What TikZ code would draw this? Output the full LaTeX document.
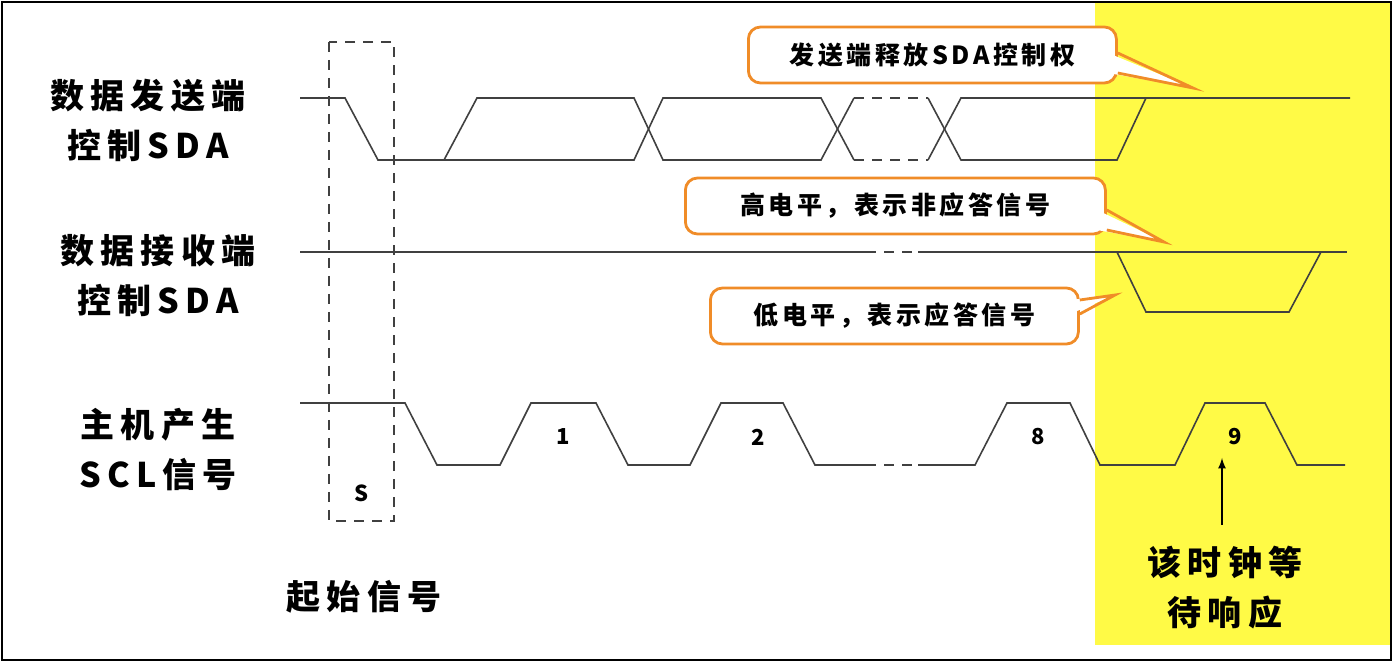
\documentclass[tikz,border=0pt]{standalone}
\usepackage{fontspec}
\setmainfont{Noto Sans CJK SC}
\usetikzlibrary{positioning}

\definecolor{calloutorange}{RGB}{240,140,40}
\definecolor{ackyellow}{RGB}{255,250,70}

\tikzset{
    wave/.style={line width=0.8pt, black!75},
    gap/.style={line width=0.8pt, black!75, dash pattern=on 5pt off 4pt},
    signame/.style={font=\fontsize{17}{25}\selectfont\bfseries\addfontfeatures{LetterSpace=18}, align=center},
    callout/.style={draw=calloutorange, line width=1.4pt, rounded corners=6pt, fill=white,
        font=\fontsize{12.5}{14}\selectfont\bfseries\addfontfeatures{LetterSpace=14}, minimum height=28pt, anchor=west},
    pointer/.style={draw=calloutorange, line width=1.4pt},
    bitnum/.style={font=\fontsize{11}{12}\selectfont\bfseries}
}

\begin{document}
\begin{tikzpicture}[x=0.5pt, y=-0.5pt]
    \useasboundingbox (0,0) rectangle (1394,663);

    % Background and frame
    \fill[ackyellow] (1095,2) rectangle (1390,645);
    \draw[line width=1.2pt] (2,2) rectangle (1391,660);

    % Signal names
    \node[signame] (txname) at (148,120) {数据发送端\\控制SDA};
    \node[signame] (rxname) at (158,276) {数据接收端\\控制SDA};
    \node[signame] (sclname) at (158,450) {主机产生\\SCL信号};

    % Start condition box
    \draw[gap, line width=1pt] (329,42) rectangle (394,521);
    \node[bitnum] (start) at (362,493) {S};
    \node[signame] (startname) at (364,597) {起始信号};

    % Transmitter SDA
    \draw[wave] (300,98) -- (345,98) -- (378,160) -- (634,160) -- (663,98) -- (821,98) -- (854,160);
    \draw[wave] (444,160) -- (477,98) -- (634,98) -- (663,160) -- (821,160) -- (854,98);
    \draw[gap] (854,98) -- (928,98);
    \draw[gap] (854,160) -- (928,160);
    \draw[wave] (928,98) -- (961,160) -- (1117,160) -- (1146,98) -- (1350,98);
    \draw[wave] (928,160) -- (961,98) -- (1146,98);

    % Receiver SDA
    \draw[wave] (300,252) -- (866,252);
    \draw[gap] (866,252) -- (918,252);
    \draw[wave] (918,252) -- (1347,252);
    \draw[wave] (1117,252) -- (1146,312) -- (1289,312) -- (1321,252);

    % SCL
    \draw[wave] (300,403) -- (405,403) -- (437,465) -- (500,465) -- (531,403) -- (596,403)
        -- (628,465) -- (690,465) -- (721,403) -- (783,403) -- (815,465) -- (866,465);
    \draw[gap] (866,465) -- (918,465);
    \draw[wave] (918,465) -- (975,465) -- (1007,403) -- (1070,403) -- (1100,465) -- (1175,465)
        -- (1205,403) -- (1265,403) -- (1297,465) -- (1345,465);
    \foreach \x/\n in {563/1, 758/2, 1038/8, 1235/9}
        \node[bitnum] (bit\n) at (\x,437) {\n};

    % Waiting clock
    \node[signame] (waitnote) at (1225,588) {该时钟等\\待响应};
    \coordinate (waitbase) at (1222,525);
    \coordinate (waittip) at (1222,458);
    \draw[-latex, line width=0.8pt] (waitbase) -- (waittip);

    % Callouts
    \node[callout, minimum width=184pt] (release) at (747,55) {发送端释放SDA控制权};
    \fill[white] (1108,53) -- (1193,88) -- (1108,73) -- cycle;
    \draw[pointer] (release.east |- 0,53) -- (1193,88) -- (release.east |- 0,73);

    \node[callout, minimum width=210pt] (nack) at (684,206) {高电平，表示非应答信号};
    \fill[white] (1097,210) -- (1164,242) -- (1097,230) -- cycle;
    \draw[pointer] (nack.east |- 0,210) -- (1164,242) -- (nack.east |- 0,230);

    \node[callout, minimum width=184pt] (ack) at (709,316) {低电平，表示应答信号};
    \fill[white] (1070,300) -- (1115,295) -- (1070,314) -- cycle;
    \draw[pointer] (ack.east |- 0,300) -- (1115,295) -- (ack.east |- 0,314);
\end{tikzpicture}
\end{document}
